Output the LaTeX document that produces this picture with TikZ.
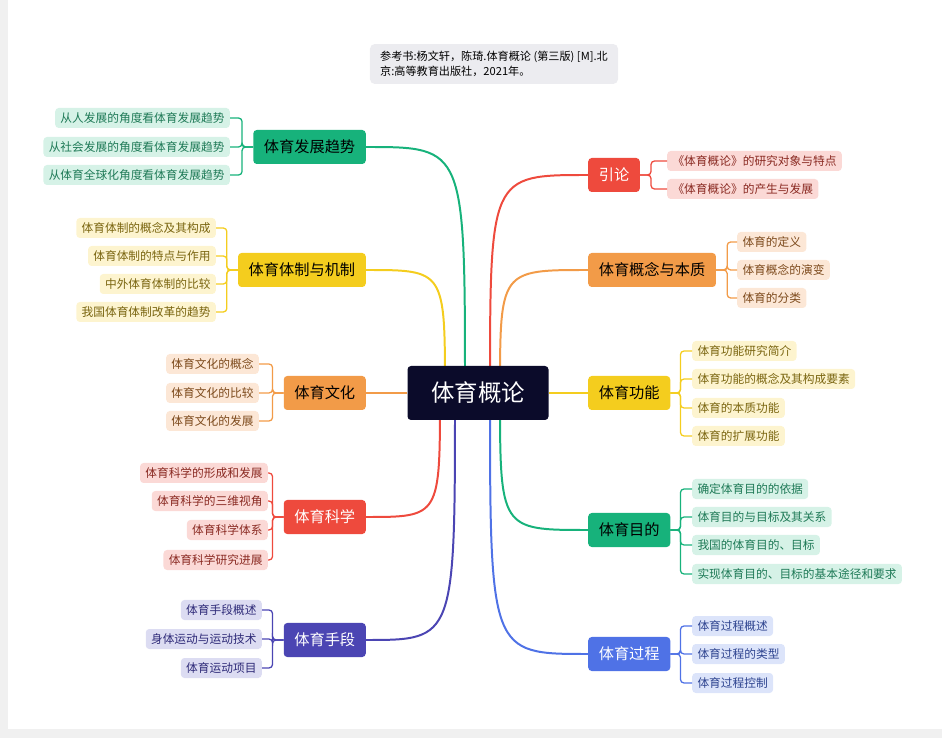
\documentclass[tikz,border=0pt]{standalone}
\usepackage{fontspec}
\setmainfont{Noto Sans CJK SC}
\usetikzlibrary{backgrounds}
\definecolor{hubc}{HTML}{0B0B2A}
\definecolor{notec}{HTML}{ECECF0}
\definecolor{gn}{HTML}{17B27B}\definecolor{gnl}{HTML}{D6F2E7}\definecolor{gnt}{HTML}{1F7A57}
\definecolor{yl}{HTML}{F4CD1E}\definecolor{yll}{HTML}{FDF4CF}\definecolor{ylt}{HTML}{7A6510}
\definecolor{og}{HTML}{F29B48}\definecolor{ogl}{HTML}{FCE7D6}\definecolor{ogt}{HTML}{7D4A1C}
\definecolor{rd}{HTML}{EE4A3D}\definecolor{rdl}{HTML}{FBD9D6}\definecolor{rdt}{HTML}{8A2A22}
\definecolor{pp}{HTML}{4B45B3}\definecolor{ppl}{HTML}{DCDCF2}\definecolor{ppt}{HTML}{2E2A78}
\definecolor{bl}{HTML}{4F72E6}\definecolor{bll}{HTML}{DCE4FA}\definecolor{blt}{HTML}{2D438F}
\tikzset{
  hub/.style={fill=hubc, text=white, rounded corners=3pt, minimum width=4.23cm, minimum height=1.62cm, font=\fontsize{20}{24}\selectfont},
  topic/.style={rounded corners=3pt, minimum height=1.02cm, inner xsep=9pt, font=\fontsize{13}{15}\selectfont},
  leaf/.style={rounded corners=3pt, minimum height=0.6cm, inner xsep=4.5pt, font=\fontsize{10}{12}\selectfont},
  main/.style={line width=1.7pt},
  twig/.style={line width=1.1pt, rounded corners=3pt},
}
\begin{document}
\begin{tikzpicture}[x=0.03cm,y=-0.03cm]
\useasboundingbox (0,0) rectangle (942,738);
\fill[gray!12] (0,0) rectangle (8,738);
\fill[gray!12] (0,729) rectangle (942,738);
% note and hub
\node[fill=notec, rounded corners=4pt, align=left, inner sep=6pt, font=\fontsize{9.5}{13}\selectfont, minimum width=7.44cm] (note) at (494,64) {参考书:杨文轩，陈琦.体育概论 (第三版) [M].北\\京:高等教育出版社，2021年。};
\node[hub] (c) at (478,393) {体育概论};
% left topics
\node[topic, fill=gn, anchor=east] (fz) at (366,147) {体育发展趋势};
\node[topic, fill=yl, anchor=east] (tz) at (366,270) {体育体制与机制};
\node[topic, fill=og, anchor=east] (wh) at (366,393) {体育文化};
\node[topic, fill=rd, text=white, anchor=east] (kx) at (366,517) {体育科学};
\node[topic, fill=pp, text=white, anchor=east] (sd) at (366,640) {体育手段};
% right topics
\node[topic, fill=rd, text=white, anchor=west] (yl) at (588,175) {引论};
\node[topic, fill=og, anchor=west] (gn) at (588,270) {体育概念与本质};
\node[topic, fill=yl, anchor=west] (gl) at (588,393) {体育功能};
\node[topic, fill=gn, anchor=west] (md) at (588,530) {体育目的};
\node[topic, fill=bl, text=white, anchor=west] (gc) at (588,654) {体育过程};
% leaves left
\foreach \t/\y [count=\i] in {从人发展的角度看体育发展趋势/118, 从社会发展的角度看体育发展趋势/147, 从体育全球化角度看体育发展趋势/175}{
  \node[leaf, fill=gnl, text=gnt, anchor=east] (fz\i) at (230,\y) {\t};
  \draw[twig, gn] (fz.west) -- ++(-11,0) |- (fz\i.east);
}
\foreach \t/\y [count=\i] in {体育体制的概念及其构成/228, 体育体制的特点与作用/256, 中外体育体制的比较/284, 我国体育体制改革的趋势/312}{
  \node[leaf, fill=yll, text=ylt, anchor=east] (tz\i) at (216,\y) {\t};
  \draw[twig, yl] (tz.west) -- ++(-11,0) |- (tz\i.east);
}
\foreach \t/\y [count=\i] in {体育文化的概念/364, 体育文化的比较/393, 体育文化的发展/421}{
  \node[leaf, fill=ogl, text=ogt, anchor=east] (wh\i) at (259,\y) {\t};
  \draw[twig, og] (wh.west) -- ++(-11,0) |- (wh\i.east);
}
\foreach \t/\y [count=\i] in {体育科学的形成和发展/473, 体育科学的三维视角/501, 体育科学体系/530, 体育科学研究进展/560}{
  \node[leaf, fill=rdl, text=rdt, anchor=east] (kx\i) at (268,\y) {\t};
  \draw[twig, rd] (kx.west) -- ++(-11,0) |- (kx\i.east);
}
\foreach \t/\y [count=\i] in {体育手段概述/610, 身体运动与运动技术/639, 体育运动项目/668}{
  \node[leaf, fill=ppl, text=ppt, anchor=east] (sd\i) at (262,\y) {\t};
  \draw[twig, pp] (sd.west) -- ++(-11,0) |- (sd\i.east);
}
% leaves right
\foreach \t/\y [count=\i] in {《体育概论》的研究对象与特点/161, 《体育概论》的产生与发展/189}{
  \node[leaf, fill=rdl, text=rdt, anchor=west] (yl\i) at (667,\y) {\t};
  \draw[twig, rd] (yl.east) -- ++(11,0) |- (yl\i.west);
}
\foreach \t/\y [count=\i] in {体育的定义/242, 体育概念的演变/270, 体育的分类/298}{
  \node[leaf, fill=ogl, text=ogt, anchor=west] (gn\i) at (737,\y) {\t};
  \draw[twig, og] (gn.east) -- ++(11,0) |- (gn\i.west);
}
\foreach \t/\y [count=\i] in {体育功能研究简介/351, 体育功能的概念及其构成要素/379, 体育的本质功能/408, 体育的扩展功能/436}{
  \node[leaf, fill=yll, text=ylt, anchor=west] (gl\i) at (692,\y) {\t};
  \draw[twig, yl] (gl.east) -- ++(10,0) |- (gl\i.west);
}
\foreach \t/\y [count=\i] in {确定体育目的的依据/489, 体育目的与目标及其关系/517, 我国的体育目的、目标/545, 实现体育目的、目标的基本途径和要求/574}{
  \node[leaf, fill=gnl, text=gnt, anchor=west] (md\i) at (692,\y) {\t};
  \draw[twig, gn] (md.east) -- ++(10,0) |- (md\i.west);
}
\foreach \t/\y [count=\i] in {体育过程概述/626, 体育过程的类型/654, 体育过程控制/683}{
  \node[leaf, fill=bll, text=blt, anchor=west] (gc\i) at (692,\y) {\t};
  \draw[twig, bl] (gc.east) -- ++(10,0) |- (gc\i.west);
}
% main branches
\begin{scope}[on background layer]
\draw[main, gn] (465,393) .. controls (465,147) .. (fz.east);
\draw[main, yl] (445,393) .. controls (445,270) .. (tz.east);
\draw[main, og] (c) -- (wh.east);
\draw[main, rd] (440,393) .. controls (440,517) .. (kx.east);
\draw[main, pp] (455,393) .. controls (455,640) .. (sd.east);
\draw[main, rd] (490,393) .. controls (490,175) .. (yl.west);
\draw[main, og] (500,393) .. controls (500,270) .. (gn.west);
\draw[main, yl] (c) -- (gl.west);
\draw[main, gn] (500,393) .. controls (500,530) .. (md.west);
\draw[main, bl] (490,393) .. controls (490,654) .. (gc.west);
\end{scope}
\end{tikzpicture}
\end{document}
